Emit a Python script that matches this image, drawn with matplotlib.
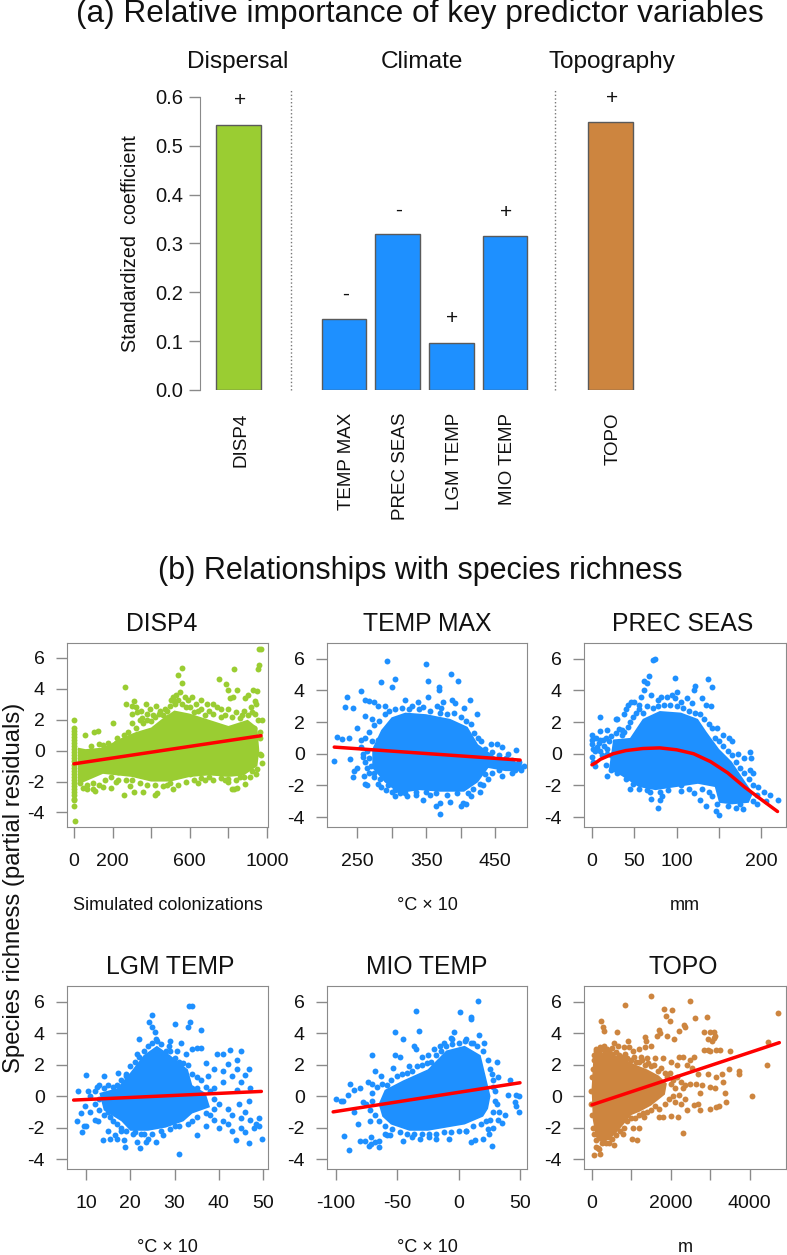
import matplotlib
matplotlib.use('Agg')
import matplotlib.pyplot as plt
from matplotlib.transforms import ScaledTranslation

plt.rcParams['font.family'] = ['Liberation Sans', 'DejaVu Sans']

W, H = 787, 1255
GREEN = '#9ACD32'
BLUE = '#1E90FF'
BROWN = '#CD853F'
GRAY = '#8a8a8a'

# (a) bars
bar_names = ['DISP4', 'TEMP MAX', 'PREC SEAS', 'LGM TEMP', 'MIO TEMP', 'TOPO']
bar_values = [0.543, 0.146, 0.320, 0.096, 0.315, 0.548]
bar_signs = ['+', '-', '-', '+', '+', '+']
sign_heights = [0.592, 0.197, 0.369, 0.146, 0.363, 0.596]

# (b) the dots overlap into a solid mass in the middle of each cloud, so that
# mass is a filled outline; the dots that can be told
# apart are listed one by one.
disp4_core = [(20,-2.2),(150,-1.5),(300,-1.7),(400,-2),(500,-2),(600,-1.7),(700,-1.6),(800,-1.7),(880,-1.6),(950,-1),
              (960,0),(950,1.5),(900,2),(800,1.6),(700,2),(600,2.4),(520,2.6),(450,2),(400,1.5),(320,1.2),(260,0.9),(150,0.2),(60,0.1),(20,0.2)]
disp4_pts = [(1,2.0),(1,1.5),(1,1.3),(1,1.1),(1,0.9),(1,0.7),(1,0.5),(1,0.3),(1,0.1),(1,-0.1),(1,-0.3),(1,-0.5),(1,-0.7),(1,-0.9),
             (1,-1.1),(1,-1.3),(1,-1.5),(1,-1.7),(1,-1.9),(1,-2.1),(1,-2.3),(1,-2.5),(1,-2.7),(1,-2.9),(1,-3.1),(1,-3.2),(1,-3.6),(5,-4.55),
             (55,1.0),(105,1.2),(125,1.3),(150,0.4),(175,0.5),(200,1.8),(225,0.8),(245,0.6),(265,4.1),(270,3.0),(300,2.9),(310,3.2),
             (325,2.5),(345,2.6),(355,2.1),(375,3.0),(380,2.4),(395,2.7),(410,2.3),(425,2.9),(445,2.6),(470,2.7),(485,2.2),(505,3.3),
             (515,3.5),(525,3.0),(530,3.6),(540,4.9),(550,3.8),(560,4.35),(560,5.35),(575,3.5),(590,3.3),(610,3.5),(630,3.0),(660,3.3),
             (690,3.0),(720,3.05),(750,4.65),(760,2.7),(790,4.3),(800,3.95),(810,3.4),(825,3.5),(830,5.3),(845,3.9),(870,2.3),(885,3.4),
             (900,3.6),(915,2.8),(925,3.9),(940,3.2),(945,3.0),(950,3.85),(955,5.3),(960,5.55),(960,6.55),(970,6.6),(975,2.0),(975,-0.8),
             (970,-0.3),(945,-1.5),(920,-1.3),(885,-2.15),(860,-1.7),(845,-2.4),(830,-2.45),(820,-2.5),(800,-2.0),(780,-1.9),(700,-1.7),
             (680,-1.9),(640,-2.1),(600,-1.5),(515,-2.45),(480,-2.2),(430,-2.75),(420,-2.9),(360,-2.7),(310,-2.65),(260,-2.85),(290,-2.3),
             (270,-1.9),(220,-2.05),(190,-2.4),(150,-2.35),(110,-2.6),(100,-2.45),(70,-2.5),(45,-2.4),(30,-2.1),(230,-1.4),(190,-1.1),
             (250,-0.7),(170,-0.6),(130,0.45),(90,0.3),
             (280,1.2),(300,1.8),(320,1.5),(340,2.0),(300,2.4),(320,2.8),(360,1.8),(380,2.0),(400,1.9),(420,2.2),(440,2.4),(460,2.3),(480,2.6),
             (500,2.9),(520,3.2),(540,3.3),(560,3.0),(580,2.8),(600,2.8),(620,2.5),(640,2.6),(660,2.7),(680,2.3),(700,2.6),(720,2.4),(740,2.8),
             (760,2.2),(780,2.3),(800,2.7),(820,2.2),(840,2.5),(860,2.1),(880,2.6),(900,2.3),(920,2.5),(940,2.4),(955,2.0),(935,1.5),
             (60,-0.8),(40,-0.5),(100,-0.4),(130,-0.1),(180,0.3),(220,0.5),(260,1.0),(70,-2.2),(100,-2.1),(130,-2.2),(160,-1.9),(190,-1.7),
             (230,-1.9),(300,-1.9),(340,-2.1),(380,-2.2),(420,-2.2),(460,-2.3),(500,-2.1),(540,-2.2),(580,-2.0),(620,-1.9),(660,-1.8),(720,-1.9),
             (760,-1.8),(800,-1.85),(840,-1.9),(880,-1.7),(910,-1.7),(950,-1.2),(965,-0.2),(965,0.8),(965,1.2)]
disp4_line = [(0,-0.85),(969,0.97)]

tmax_core = [(272,0.3),(285,1.5),(300,2.3),(320,2.6),(350,2.5),(385,2.2),(410,1.7),(425,0.6),(450,-0.2),(488,-0.6),(490,-1.1),
             (465,-1.1),(440,-0.9),(425,-1.8),(405,-2.4),(370,-2.4),(340,-2.3),(310,-2.5),(290,-1.8),(272,-0.9)]
tmax_pts = [(217,-0.45),(221,1.05),(228,0.95),(238,1.0),(240,-0.35),(244,-1.5),(246,-1.1),(250,-0.9),(250,1.6),(256,0.9),(258,-0.2),
            (260,-1.4),(262,-1.9),(264,-2.0),(233,2.95),(236,3.6),(244,2.9),(256,3.95),(262,3.4),(268,3.35),(274,3.3),(280,3.0),(290,3.0),
            (285,4.55),(305,4.7),(300,4.25),(293,5.85),(262,2.4),(272,2.2),(270,-0.8),(268,-1.2),(275,-1.5),(280,-1.9),(285,-2.1),(292,-2.3),
            (300,-2.4),(305,-2.7),(312,-2.5),(322,-2.7),(335,-2.6),(350,5.7),(352,4.6),(352,3.6),(338,3.3),(320,3.4),(330,3.0),(345,2.95),
            (366,3.0),(375,3.3),(388,3.4),(392,3.2),(368,4.2),(368,4.0),(386,5.05),(396,4.6),(372,2.9),(405,2.9),(414,3.4),(424,2.5),
            (430,0.8),(444,0.6),(453,0.6),(460,0.4),(468,0.0),(480,0.25),(487,-1.0),(475,-1.2),(460,-1.4),(440,-1.6),(432,-2.0),(428,-2.4),
            (415,-2.7),(408,-3.2),(404,-3.1),(400,-3.3),(385,-3.05),(370,-3.1),(365,-3.3),(370,-3.8),(345,-2.9),(355,-2.6),
            (255,0.4),(262,1.0),(268,1.4),(275,1.8),(282,2.1),(290,2.5),(296,2.7),(305,2.8),(315,2.9),(325,2.8),(340,2.8),(355,2.7),(370,2.6),
            (380,2.5),(390,2.6),(400,2.3),(408,2.1),(415,1.9),(420,1.3),(425,1.0),(435,0.3),(445,0.1),(455,-0.1),(465,-0.3),(475,-0.4),(484,-0.5),
            (492,-0.8),(478,-1.0),(455,-1.0),(445,-1.2),(435,-1.3),(428,-1.9),(418,-2.2),(410,-2.5),(395,-2.5),(380,-2.6),(365,-2.5),(350,-2.4),
            (335,-2.4),(320,-2.5),(305,-2.3),(295,-2.0),(283,-1.6),(275,-1.2),(265,-0.9),(262,-0.5),(258,0.0),(265,0.2),(268,-0.3),(280,0.9),(272,0.8)]
tmax_line = [(217,0.42),(486,-0.4)]

prec_core = [(20,-1.0),(25,0.9),(45,1.0),(60,2.2),(80,2.7),(105,2.6),(125,2.2),(135,1.4),(150,0.3),(165,-0.5),(180,-1.7),(190,-2.5),
             (185,-3.1),(165,-3.2),(150,-3.1),(145,-2.1),(125,-1.9),(100,-2.1),(75,-2.3),(55,-2.1),(35,-1.4)]
prec_pts = [(0,1.2),(0,0.9),(0,0.6),(1,0.3),(0,-0.2),(1,-0.5),(3,-0.8),(5,1.0),(8,0.7),(10,0.9),(13,0.9),(16,1.0),(9,1.45),(9,2.35),
            (18,1.5),(28,2.2),(30,2.2),(32,1.55),(36,1.5),(38,2.5),(40,2.8),(42,3.1),(46,3.3),(50,3.3),(55,3.1),(58,3.6),(62,4.0),(62,4.6),
            (65,4.5),(67,4.9),(70,3.7),(72,5.95),(74,5.97),(78,3.4),(82,3.6),(88,3.6),(95,3.7),(98,3.5),(98,4.8),(100,3.9),(105,3.3),
            (112,3.5),(118,3.2),(120,4.05),(122,4.3),(130,3.5),(135,3.1),(137,4.7),(142,4.2),(140,3.0),(147,1.6),(155,1.2),(162,1.0),
            (165,0.8),(172,0.0),(186,0.1),(188,-0.3),(180,-0.3),(190,-1.2),(186,-1.0),(196,-2.1),(203,-2.4),(205,-3.0),(210,-2.6),
            (220,-2.95),(195,-3.2),(178,-3.5),(170,-3.45),(150,-3.85),(146,-3.6),(135,-3.3),(128,-2.9),(120,-2.5),(80,-2.95),(83,-2.65),
            (78,-3.4),(70,-2.85),(45,-2.2),(68,-2.4),(18,-1.4),(22,-0.1),(12,-0.1),(25,-0.6),(105,-2.35),
            (3,0.2),(6,0.4),(10,0.2),(14,0.5),(18,0.3),(20,0.8),(22,1.1),(28,1.3),(35,1.2),(38,1.4),(42,1.7),(45,2.0),(48,2.3),(52,2.6),(55,2.8),
            (60,2.6),(65,3.0),(72,2.9),(78,3.0),(85,3.1),(92,3.1),(100,3.0),(108,2.9),(115,2.7),(122,2.6),(128,2.5),(132,2.2),(138,1.9),(142,1.6),
            (145,1.0),(150,0.8),(155,0.5),(160,0.2),(165,-0.1),(170,-0.5),(175,-0.9),(180,-1.2),(185,-1.6),(190,-2.0),(195,-2.6),(190,-3.0),
            (175,-3.2),(160,-3.3),(148,-3.2),(142,-2.7),(138,-2.4),(130,-2.2),(115,-2.2),(105,-2.0),(90,-2.3),(80,-2.4),(65,-2.3),(55,-2.2),
            (48,-1.9),(40,-1.6),(30,-1.2),(22,-1.0),(16,-0.7),(18,0.0)]
prec_line = [(0,-0.7),(5,-0.55),(10,-0.35),(25,0.0),(40,0.2),(60,0.33),(80,0.37),(100,0.25),(120,0.0),(140,-0.5),(160,-1.2),
             (180,-2.1),(200,-2.9),(219,-3.65)]

lgm_core = [(14,-0.9),(13,0.2),(17,0.5),(20,1.5),(23,2.6),(26,3.2),(29,2.6),(33,1.7),(34,0.7),(37,0.2),(38,-0.7),(34,-1.1),(32,-1.6),
            (28,-2.0),(24,-2.2),(20,-2.2),(18,-1.6)]
lgm_pts = [(8,-1.6),(8.2,0.35),(8.8,-1.1),(9,-2.25),(9.5,-1.9),(9.7,-0.6),(10,-1.9),(10,1.35),(10.5,0.3),(11,-1.0),(12,-1.5),(12.5,0.6),
           (12.8,-1.6),(14,1.3),(13.8,-2.8),(15,-2.2),(15.3,-1.3),(15.5,-2.7),(16.5,-2.5),(17,-2.7),(17.3,1.5),(18,-2.2),(18.5,-2.8),
           (18.8,-3.25),(19,1.3),(20.5,-2.4),(21.5,-2.9),(22.3,-3.3),(22.4,-2.4),(21.5,2.7),(22,3.65),(23.5,-2.9),(24,-2.7),(24.2,4.7),
           (25,5.15),(25,4.4),(25.5,4.1),(25.7,3.65),(25.8,-2.9),(27.3,-2.5),(28.7,3.2),(29,3.5),(30,4.6),(30,-1.9),(31,-3.65),(31.5,3.4),
           (30.5,2.9),(32.5,2.7),(33,4.4),(33.2,5.75),(33.5,4.7),(34,5.75),(34,3.0),(35,3.05),(36,3.05),(36,4.2),(35,-2.5),(37,2.1),
           (37.5,1.3),(39,1.7),(39.5,2.7),(41,2.7),(41,1.6),(42,2.05),(42.5,2.95),(43,1.3),(44,2.3),(44,1.7),(45,2.85),(45,0.9),(46,1.35),
           (46.7,1.75),(47,0.5),(41,0.9),(39,0.5),(44,0.4),(40,-0.5),(42,-0.8),(44.5,-0.5),(46.8,-0.3),(46,-1.0),(45,-1.4),(43,-1.2),
           (41,-1.6),(39,-1.5),(37,-1.9),(38,-1.2),(40,-2.0),(42,-1.8),(43,-2.2),(43.8,-2.8),(45,-2.0),(46,-2.3),(46.7,-2.95),(47,-1.5),
           (48,-2.0),(49,-1.9),(49,-1.4),(49.7,-2.7),(48.5,-1.8),
           (12,0.3),(13,0.7),(14,0.5),(15,0.7),(16,0.6),(17,0.7),(18,1.0),(19,1.4),(20,1.9),(21,2.2),(22,2.5),(23,2.9),(24,3.2),(25,3.4),(26,3.5),
           (27,3.3),(28,2.9),(29,2.9),(30,2.4),(31,2.2),(32,2.1),(33,2.0),(34,1.4),(35,1.2),(36,1.0),(35,0.5),(37,0.6),(38,0.3),(39,-0.2),(39,-0.8),
           (37,-1.1),(35,-1.3),(34,-1.6),(33,-1.8),(31,-1.9),(29,-2.1),(27,-2.2),(25,-2.4),(23,-2.4),(21,-2.3),(19,-2.2),(18,-2.0),(17,-1.8),
           (16,-1.6),(15,-1.0),(14,-1.2),(13,-0.9),(12,-0.5),(11,0.0),(13,-0.2)]
lgm_line = [(7.2,-0.25),(49.6,0.3)]

mio_core = [(-65,-0.5),(-60,0.4),(-45,1.0),(-25,1.7),(-10,2.9),(5,3.2),(18,2.6),(22,1.3),(26,0.0),(24,-0.8),(20,-1.3),(5,-1.8),(-10,-2.0),
            (-25,-2.2),(-40,-2.2),(-55,-1.8),(-62,-1.3)]
mio_pts = [(-100,-0.15),(-96,-0.3),(-93,-2.55),(-94,-0.3),(-90,0.05),(-89,-3.4),(-88,0.8),(-85,0.4),(-85,-1.0),(-82,-1.8),(-80,0.5),
           (-80,-2.85),(-76,-2.85),(-74,0.9),(-73,-3.2),(-71,-2.6),(-71,-3.05),(-70,2.6),(-68,-2.9),(-65,-3.25),(-68,1.6),(-63,1.3),(-60,-2.4),
           (-65,-2.85),(-58,-2.5),(-56,-2.5),(-52,4.1),(-52,2.6),(-48,2.5),(-53,1.8),(-45,3.6),(-35,5.4),(-32,4.15),(-36,3.2),(-35,3.0),
           (1,5.35),(-4,4.05),(-5,3.6),(10,4.9),(10.5,5.05),(16,6.05),(17,3.9),(21,3.4),(31,2.2),(27,1.4),(32,1.2),(42,1.05),(40,0.05),
           (47,0.1),(49,0.0),(46,-0.4),(47,-0.65),(49,-1.0),(38,-1.2),(35,-1.7),(32,-1.5),(28,-2.0),(24,-2.1),(20,-2.7),(27,-3.2),(13,-2.8),
           (10.5,-2.9),(6,-2.2),(-8,-2.7),(-18,-2.75),(-24,-2.6),(-31,-2.75),(-38,-2.6),(-45,-2.85),(-25,2.6),(-20,3.0),(-15,3.2),(-30,2.5),
           (-40,1.9),(-70,0.8),(-78,-0.4),(-72,-1.6),(30,-0.3),(33,-1.0),(25,-2.4),(28,0.6),(12,3.4),(-12,3.4),(-6,3.7),(6,3.6),
           (-75,-0.5),(-70,0.2),(-66,0.6),(-62,0.8),(-58,0.7),(-55,1.0),(-50,1.3),(-46,1.4),(-42,1.5),(-38,1.6),(-34,1.9),(-30,2.0),(-26,2.1),
           (-22,2.2),(-18,2.6),(-14,2.9),(-10,3.2),(-5,3.3),(0,3.4),(5,3.5),(10,3.4),(15,3.2),(20,2.9),(24,2.3),(26,1.7),(28,1.0),(30,0.3),(31,-0.5),
           (28,-1.0),(26,-1.5),(22,-1.6),(18,-1.8),(12,-1.9),(6,-2.2),(0,-2.2),(-6,-2.3),(-12,-2.3),(-18,-2.4),(-24,-2.4),(-30,-2.4),(-36,-2.4),
           (-42,-2.4),(-48,-2.3),(-54,-2.1),(-60,-1.9),(-65,-1.6),(-68,-1.2),(-72,-0.9),(-70,-0.3)]
mio_line = [(-102,-1.0),(50,0.85)]

topo_core = [(-10,0.5),(30,2.2),(150,2.8),(500,2.7),(800,2.4),(1100,2.0),(1400,1.7),(1700,1.3),(1900,0.8),(1850,0.1),(1500,-0.6),
             (1200,-1.0),(1000,-1.2),(800,-1.8),(600,-2.4),(400,-2.8),(200,-2.9),(100,-2.6),(20,-1.5)]
topo_pts = [(60,-3.75),(90,-3.25),(170,-3.35),(200,-3.65),(150,-3.3),(100,-2.8),(300,-2.9),(420,-2.6),(560,-3.1),(780,-2.4),(1010,-2.7),
            (1130,-2.8),(2300,-2.35),(1050,-2.0),(1200,-2.0),(1330,-1.3),(1700,-1.3),(1800,-1.3),(2000,-1.25),(2180,-1.3),(2400,-0.9),
            (2750,-0.9),(3000,-0.8),(3150,-0.7),(3230,-0.65),(3400,-0.4),(2600,-0.55),(2700,-0.5),(4052,0),(3384,0.2),(3130,0.5),(3316,0.9),
            (3000,0.6),(2750,0.2),(2800,0.7),(2650,0.8),(2500,0.8),(2300,0.5),(2100,0.5),(2000,0.8),(3740,1.4),(3740,1.6),(3470,1.75),
            (3300,1.4),(3150,1.2),(2950,1.4),(2700,1.4),(2550,1.8),(2400,2.0),(2500,2.3),(2300,2.5),(2200,2.5),(2600,2.5),(2850,2.95),
            (2950,2.95),(3000,2.9),(3150,2.95),(3250,2.95),(3500,2.85),(3050,3.5),(2850,4.05),(3000,4.1),(3100,3.7),(3100,4.1),(3120,3.85),
            (2950,3.6),(4450,1.95),(4475,3.45),(4720,5.3),(1506,6.35),(846,5.8),(2479,6.05),(1819,5.55),(2030,5.5),(1878,5.1),(2620,4.95),
            (2920,5.0),(1971,4.8),(228,4.75),(270,4.4),(313,4.15),(634,4.1),(1692,4.2),(2200,4.15),(2326,4.5),(2369,4.4),(1734,4.0),(1353,3.75),
            (1650,3.85),(1900,3.8),(914,3.5),(1379,3.5),(2073,3.6),(550,3.4),(100,3.0),(200,3.1),(300,3.2),(380,3.0),(500,3.05),(650,3.2),
            (800,3.1),(950,3.1),(1050,2.9),(1200,3.0),(1350,3.1),(1500,3.2),(1250,2.5),(1400,2.4),(1600,2.4),(1800,2.4),(2000,2.2),(2150,2.0),
            (40,2.3),(60,2.6),(100,2.9),(180,2.9),(260,3.0),(330,2.8),(420,2.8),(520,2.7),(600,2.8),(680,2.6),(760,2.5),(840,2.7),(900,2.4),
            (980,2.3),(1060,2.5),(1120,2.2),(1200,2.2),(1280,2.3),(1350,2.0),(1420,2.1),(1500,1.9),(1580,2.0),(1680,1.6),(1750,1.8),(1850,1.5),
            (1900,1.2),(1980,1.5),(2050,1.0),(2150,1.2),(2250,0.9),(2350,0.7),(2200,0.1),(2050,0.0),(1950,-0.2),(2100,-0.4),(2250,-0.5),(2350,-0.2),
            (1850,-0.5),(1700,-0.8),(1600,-0.6),(1500,-0.9),(1400,-1.0),(1300,-1.1),(1200,-1.2),(1100,-1.4),(1000,-1.4),(900,-1.6),(820,-2.0),
            (720,-2.2),(620,-2.5),(520,-2.7),(430,-3.0),(350,-3.0),(250,-3.0),(50,-2.4),(20,-2.0),(0,-1.2),(-20,-0.5),(-20,0.3),(0,1.2),(20,1.7)]
topo_line = [(0,-0.55),(4755,3.4)]

panel_titles = ['DISP4', 'TEMP MAX', 'PREC SEAS', 'LGM TEMP', 'MIO TEMP', 'TOPO']
panel_units = ['Simulated colonizations', '°C × 10', 'mm', '°C × 10', '°C × 10', 'm']
panel_colors = [GREEN, BLUE, BLUE, BLUE, BLUE, BROWN]
panel_core = [disp4_core, tmax_core, prec_core, lgm_core, mio_core, topo_core]
panel_pts = [disp4_pts, tmax_pts, prec_pts, lgm_pts, mio_pts, topo_pts]
panel_line = [disp4_line, tmax_line, prec_line, lgm_line, mio_line, topo_line]
panel_xticks = [[0, 200, 400, 600, 800, 1000], [250, 300, 350, 400, 450], [0, 50, 100, 150, 200],
                [10, 20, 30, 40, 50], [-100, -50, 0, 50], [0, 1000, 2000, 3000, 4000]]
panel_xlabels = [['0', '200', '', '600', '', '1000'], ['250', '', '350', '', '450'], ['0', '50', '100', '', '200'],
                 ['10', '20', '30', '40', '50'], ['-100', '-50', '0', '50'], ['0', '', '2000', '', '4000']]
panel_xlim = [(-36, 1005), (206.5, 496), (-9.4, 229), (5.7, 51.1), (-107, 55.7), (-203, 4924)]
panel_ylim = [(-4.94, 6.97), (-4.63, 7.0), (-4.63, 7.0), (-4.63, 7.0), (-4.63, 7.0), (-4.63, 7.0)]
yticks = [-4, -2, 0, 2, 4, 6]

fig = plt.figure(figsize=(W/100, H/100), dpi=100)


def px_axes(left, top, right, bottom):
    return fig.add_axes([left/W, 1-bottom/H, (right-left)/W, (bottom-top)/H])


def px_text(x, y, s, size, **kw):
    fig.text(x/W, 1-y/H, s, fontsize=size, ha='center', va='center', color='#111111', **kw)


px_text(420, 14, '(a) Relative importance of key predictor variables', 22.8)
px_text(238, 62, 'Dispersal', 17.6)
px_text(422, 62, 'Climate', 17.6)
px_text(612, 62, 'Topography', 17.6)
px_text(420, 571, '(b) Relationships with species richness', 22)

# bar panel, one x unit is one bar width
ax = px_axes(200, 97, 640, 390)
bar_pos = [0.86, 3.22, 4.42, 5.62, 6.82, 9.18]
bar_colors = [GREEN, BLUE, BLUE, BLUE, BLUE, BROWN]
ax.bar(bar_pos, bar_values, width=1, color=bar_colors, edgecolor='#5a5a5a', linewidth=1)
for x, y, s in zip(bar_pos, sign_heights, bar_signs):
    ax.text(x+0.03, y, s, ha='center', va='center', fontsize=15, color='#111111')
for x in [2.04, 7.94]:
    ax.plot([x, x], [0, 0.615], color='#777777', linestyle=':', linewidth=1, clip_on=False)
ax.set_xlim(0, 440/44.7)
ax.set_ylim(0, 0.6)
for side in ['top', 'right', 'bottom']:
    ax.spines[side].set_visible(False)
ax.spines['left'].set_color(GRAY)
ax.set_yticks([0, 0.1, 0.2, 0.3, 0.4, 0.5, 0.6])
ax.set_yticklabels(['0.0', '0.1', '0.2', '0.3', '0.4', '0.5', '0.6'], fontsize=14.5, color='#111111')
ax.tick_params(axis='y', length=8, width=1, color=GRAY, pad=4)
ax.set_xticks(bar_pos)
ax.set_xticklabels(bar_names, rotation=90, fontsize=13.5, color='#111111')
ax.tick_params(axis='x', length=0, pad=16.5)
# rotated labels sit a little left of the bar centre otherwise
shift = ScaledTranslation(3/100, 0, fig.dpi_scale_trans)
for lab in ax.get_xticklabels():
    lab.set_transform(lab.get_transform() + shift)
px_text(130, 244, 'Standardized  coefficient', 14.2, rotation=90)

# scatter panels
col_px = [(67, 268), (327, 527), (584, 786)]
row_px = [(643, 827), (986, 1169)]
title_x = [162, 427, 683, 170, 427, 683]
for i in range(6):
    left, right = col_px[i % 3]
    top, bottom = row_px[i // 3]
    ax = px_axes(left, top, right, bottom)
    col = panel_colors[i]
    ax.fill(*zip(*panel_core[i]), color=col, linewidth=0)
    ax.scatter(*zip(*panel_pts[i]), s=18, color=col, linewidths=0)
    ax.plot(*zip(*panel_line[i]), color='red', linewidth=2.5, solid_capstyle='round')
    ax.set_xlim(panel_xlim[i])
    ax.set_ylim(panel_ylim[i])
    ax.set_xticks(panel_xticks[i])
    ax.set_xticklabels(panel_xlabels[i], fontsize=14, color='#111111')
    ax.set_yticks(yticks)
    ax.set_yticklabels([str(v) for v in yticks], fontsize=14, color='#111111')
    ax.tick_params(axis='both', length=8, width=1, color=GRAY)
    ax.tick_params(axis='x', pad=11)
    ax.tick_params(axis='y', pad=8)
    for s in ax.spines.values():
        s.set_color(GRAY)
    px_text(title_x[i], top-19, panel_titles[i], 17.8)
    px_text((left+right)/2, bottom+78, panel_units[i], 13)

px_text(14, 888, 'Species richness (partial residuals)', 17.2, rotation=90)

fig.savefig('out.png', dpi=100)
